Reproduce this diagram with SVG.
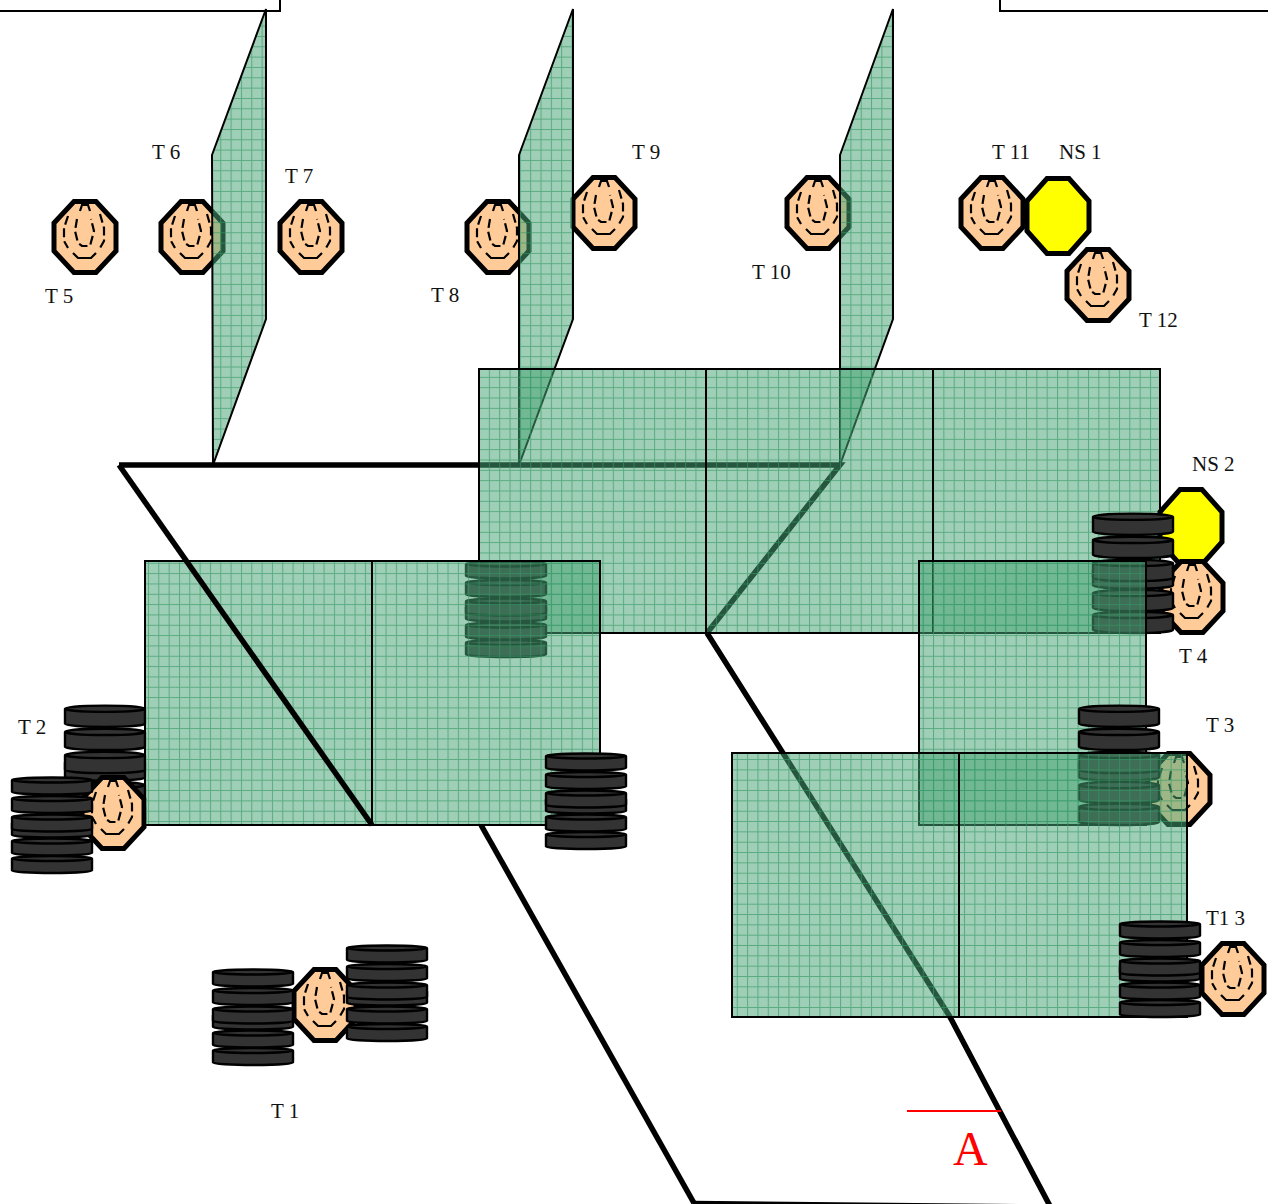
<svg xmlns="http://www.w3.org/2000/svg" width="1268" height="1204" viewBox="0 0 1268 1204">
<style>
.o{fill:#ffcc99;stroke:#000;stroke-width:5;stroke-linejoin:miter}
.n{fill:#ffff00;stroke:#000;stroke-width:5;stroke-linejoin:miter}
.i{fill:none;stroke:#000;stroke-width:2.2;stroke-dasharray:9 4}
.d{fill:#333;stroke:#000;stroke-width:2.4;vector-effect:non-scaling-stroke}
.p{fill:url(#grid);stroke:#000;stroke-width:2}
.c{fill:none;stroke:#000;stroke-width:5.5}
.b{fill:none;stroke:#000;stroke-width:2}
text{font-family:"Liberation Serif","Times New Roman",serif;font-size:21px;fill:#111}
</style>
<defs>
<pattern id="chk" width="2" height="2" patternUnits="userSpaceOnUse">
<rect width="2" height="2" fill="#339966" fill-opacity=".5"/>
<path d="M0,0h1v1h-1zM1,1h1v1h-1z" fill="#fff" fill-opacity=".1"/>
</pattern>
<pattern id="grid" width="10.33" height="10.33" patternUnits="userSpaceOnUse" patternTransform="translate(3.35,5)">
<rect width="10.33" height="10.33" fill="url(#chk)"/>
<path d="M.5,0V10.33M0,.5H10.33" stroke="#339966" stroke-opacity=".65" stroke-width="1" fill="none"/>
</pattern>
<g id="inner">
<path class="i" style="stroke-dasharray:none" d="M-5,-26L-3,-32H3L5,-26"/>
<path class="i" d="M-8,-18L-10,-6L-7,6L-3,9H5L9,-6L6,-18"/>
<path class="i" d="M-17,-21L-21,-9V4L-17,11M15,-23L19,-9V4L15,11"/>
<path class="i" style="stroke-dasharray:none" d="M-12,16L-7,21H6L11,16"/>
</g>
<g id="oct">
<path class="o" d="M-11,-35.500H11L31,-14V14L11,35.500H-11L-31,14V-14Z"/>
<use href="#inner"/>
</g>
<path id="ns" class="n" d="M-11,-37.500H11L31,-15V15L11,37.500H-11L-31,15V-15Z"/>
<g id="disc">
<path class="d" d="M1,3A40,2.500 0 0 1 81,3V15A40,2.500 0 0 1 1,15Z"/>
<path class="d" d="M1,3A40,2.500 0 0 0 81,3" fill="none"/>
</g>
<g id="stack">
<use href="#disc" y="78.500"/>
<use href="#disc" y="61"/>
<use href="#disc" y="43"/>
<use href="#disc" y="37"/>
<use href="#disc" y="18.500"/>
<use href="#disc" y="0"/>
</g>
</defs>

<g id="frames">
<path class="b" d="M0,11H280V0"/>
<path class="b" d="M1000,0V11H1268"/>
</g>

<g id="T5"><use href="#oct" x="85" y="237"/></g>
<g id="T6"><use href="#oct" x="192" y="237"/></g>
<g id="T7"><use href="#oct" x="311" y="237"/></g>
<g id="T8"><use href="#oct" x="498" y="237"/></g>
<g id="T9"><use href="#oct" x="604" y="213"/></g>
<g id="T10"><use href="#oct" x="818" y="213"/></g>
<g id="T11"><use href="#oct" x="992" y="213"/></g>
<g id="NS1"><use href="#ns" x="1058" y="216"/></g>
<g id="T12"><use href="#oct" x="1098" y="285"/></g>

<g id="walls">
<path class="p" d="M212,155L266,9V319L213,465Z"/>
<path class="p" d="M519,155L573,9V319L519,465Z"/>
<path class="p" d="M840,155L893,9V319L840,465Z"/>
</g>

<g id="connectors-back">
<path class="c" d="M119,465H840L707,633"/>
<path class="c" d="M481,825L694,1203"/>
<path class="c" d="M693,1203.500L1050,1207"/>
</g>

<g id="panel-back">
<rect class="p" x="479" y="369" width="681" height="264"/>
<path class="b" d="M706,369V633M933,369V633"/>
</g>

<g id="NS2"><use href="#ns" x="1191" y="527"/></g>
<g id="T4"><use href="#oct" x="1192" y="597"/></g>
<g id="stack-T4"><use href="#stack" transform="translate(1092,513) scale(1,1.25)"/></g>

<g id="panel-right"><rect class="p" x="919" y="561" width="227" height="264"/></g>

<g id="T3"><use href="#oct" x="1179" y="789"/></g>
<g id="stack-T3"><use href="#stack" transform="translate(1078,705) scale(1,1.25)"/></g>

<g id="stack-T2-back"><use href="#stack" transform="translate(64,705) scale(1,1.25)"/></g>
<g id="T2"><use href="#oct" x="113" y="813"/></g>
<g id="stack-T2-front"><use href="#stack" x="11" y="777"/></g>

<g id="stack-mid"><use href="#stack" x="465" y="561"/></g>
<g id="panel-front">
<rect class="p" x="145" y="561" width="455" height="264"/>
<path class="b" d="M372,561V825"/>
</g>
<g id="connector-left"><path class="c" d="M119,465L372,825"/></g>
<g id="stack-front"><use href="#stack" x="545" y="753"/></g>

<g id="connector-right"><path class="c" d="M707,633L950,1017L1050,1206"/></g>
<g id="panel-lower">
<rect class="p" x="732" y="753" width="455" height="264"/>
<path class="b" d="M959,753V1017"/>
</g>

<g id="T13"><use href="#stack" x="1119" y="921"/><use href="#oct" x="1233" y="979"/></g>

<g id="T1">
<use href="#oct" x="325" y="1005"/>
<use href="#stack" x="212" y="969"/>
<use href="#stack" x="346" y="945"/>
</g>

<g id="labels">
<text x="45" y="303">T 5</text>
<text x="152" y="159">T 6</text>
<text x="285" y="183">T 7</text>
<text x="431" y="302">T 8</text>
<text x="632" y="159">T 9</text>
<text x="752" y="279">T 10</text>
<text x="992" y="159">T 11</text>
<text x="1059" y="159">NS 1</text>
<text x="1139" y="327">T 12</text>
<text x="1192" y="471">NS 2</text>
<text x="1179" y="663">T 4</text>
<text x="1206" y="732">T 3</text>
<text x="18" y="734">T 2</text>
<text x="1206" y="925">T1 3</text>
<text x="271" y="1118">T 1</text>
</g>

<g id="marker-A">
<path d="M907,1111H1001" stroke="#ff0000" stroke-width="2" fill="none"/>
<text x="953" y="1165" style="font-size:48px;fill:#ff0000">A</text>
</g>
</svg>
